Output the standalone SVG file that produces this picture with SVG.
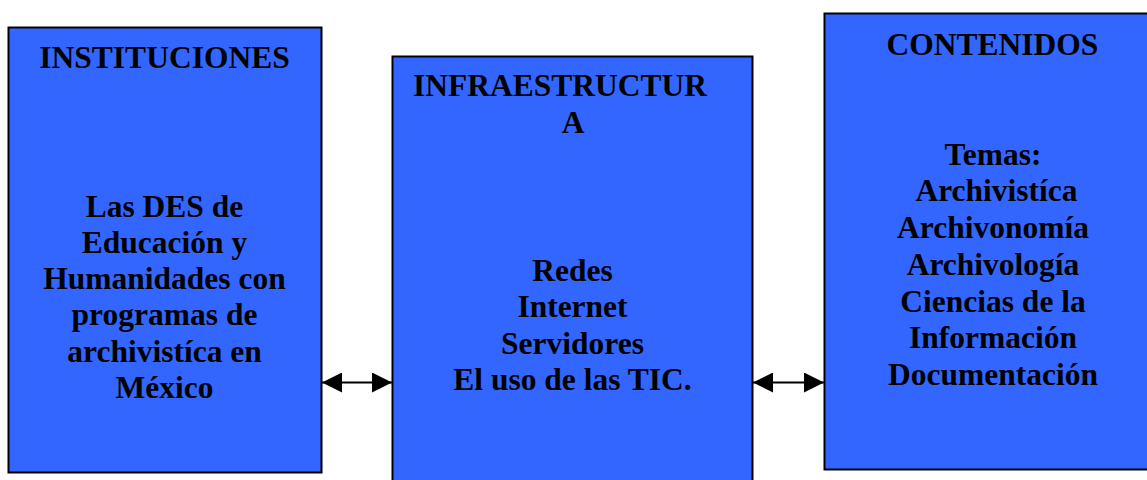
<svg xmlns="http://www.w3.org/2000/svg" width="1147" height="480" viewBox="0 0 1147 480">
  <style>
    .box { fill: #3366FF; stroke: #000000; stroke-width: 2; }
    .t { font-family: "Liberation Serif", "Times New Roman", serif; font-weight: bold; font-size: 31.5px; fill: #000000; text-anchor: middle; }
    .conn { stroke: #000000; stroke-width: 2; fill: none; }
  </style>
  <defs>
    <marker id="ah" markerUnits="userSpaceOnUse" markerWidth="20" markerHeight="20" refX="20" refY="10" orient="auto-start-reverse" viewBox="0 0 20 20">
      <path d="M0,0 L20,10 L0,20 Z" fill="#000000"/>
    </marker>
  </defs>
  <rect width="1147" height="480" fill="#FFFFFF"/>

  <g id="instituciones">
    <rect class="box" x="8.5" y="27.5" width="313" height="445"/>
    <text class="t" x="164.5" y="68">INSTITUCIONES</text>
    <text class="t" x="164.5" y="216.5">Las DES de</text>
    <text class="t" x="164.5" y="252.8">Educación y</text>
    <text class="t" x="164.5" y="289.1">Humanidades con</text>
    <text class="t" x="164.5" y="325.4">programas de</text>
    <text class="t" x="164.5" y="361.7">archivistíca en</text>
    <text class="t" x="164.5" y="398">México</text>
  </g>

  <g id="infraestructura">
    <rect class="box" x="392.5" y="56.5" width="360" height="440"/>
    <text class="t" x="413" y="96" style="text-anchor:start">INFRAESTRUCTUR</text>
    <text class="t" x="573" y="133.3">A</text>
    <text class="t" x="572.5" y="280.7">Redes</text>
    <text class="t" x="572.5" y="317.1">Internet</text>
    <text class="t" x="572.5" y="353.5">Servidores</text>
    <text class="t" x="572.5" y="390">El uso de las TIC.</text>
  </g>

  <g id="contenidos">
    <rect class="box" x="824.5" y="13.5" width="340" height="456"/>
    <text class="t" x="992.5" y="55">CONTENIDOS</text>
    <text class="t" x="993" y="164.5">Temas:</text>
    <text class="t" x="996.5" y="201.3">Archivistíca</text>
    <text class="t" x="993" y="238.1">Archivonomía</text>
    <text class="t" x="993" y="274.8">Archivología</text>
    <text class="t" x="993" y="311.5">Ciencias de la</text>
    <text class="t" x="993" y="348.3">Información</text>
    <text class="t" x="993" y="385">Documentación</text>
  </g>

  <g id="connectors">
    <line class="conn" x1="322" y1="382.5" x2="392" y2="382.5" marker-start="url(#ah)" marker-end="url(#ah)"/>
    <line class="conn" x1="753" y1="382.5" x2="824" y2="382.5" marker-start="url(#ah)" marker-end="url(#ah)"/>
  </g>
</svg>
